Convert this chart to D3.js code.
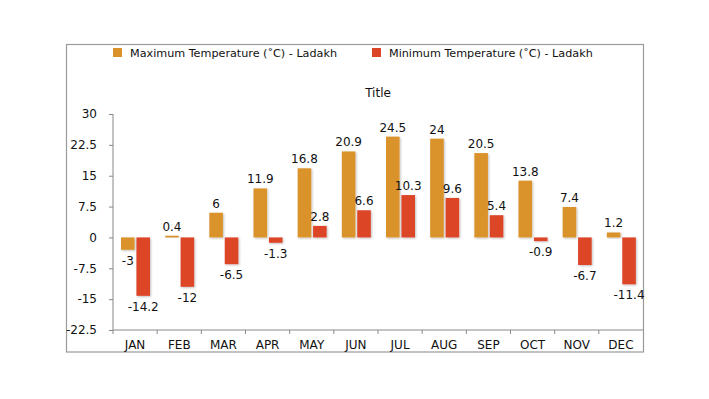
<!DOCTYPE html>
<html><head><meta charset="utf-8">
<script src="https://cdn.jsdelivr.net/npm/d3@7"></script>
<style>body{margin:0;background:#fff;} svg{display:block;font-family:"DejaVu Sans",Verdana,sans-serif;}</style>
</head><body>
<svg id="c" width="709" height="399"></svg>
<script>
const months = ["JAN","FEB","MAR","APR","MAY","JUN","JUL","AUG","SEP","OCT","NOV","DEC"];
const maxTemp = [-3,0.4,6,11.9,16.8,20.9,24.5,24,20.5,13.8,7.4,1.2];
const minTemp = [-14.2,-12,-6.5,-1.3,2.8,6.6,10.3,9.6,5.4,-0.9,-6.7,-11.4];
const yTicks = [30,22.5,15,7.5,0,-7.5,-15,-22.5];
const seriesNames = ["Maximum Temperature (˚C) - Ladakh","Minimum Temperature (˚C) - Ladakh"];
const colors = ["#DA922A","#DC4428"];
const chartTitle = "Title";

(function(){
const svg = d3.select("#c");
const defs = svg.append("defs");
const f = defs.append("filter").attr("id","sh").attr("x","-30%").attr("y","-30%").attr("width","160%").attr("height","160%");
f.append("feDropShadow").attr("dx",1).attr("dy",1).attr("stdDeviation",1).attr("flood-color","#000").attr("flood-opacity",0.25);

svg.append("rect").attr("x",66.5).attr("y",44.5).attr("width",577).attr("height",307.5)
  .attr("fill","#fff").attr("stroke","#9a9a9a").attr("stroke-width",1.2);

const pLeft=113, pRight=643, pTop=114, pBottom=330;
const y = d3.scaleLinear().domain([-22.5,30]).range([pBottom,pTop]);
const x0 = d3.scaleBand().domain(months).range([pLeft,pRight]).padding(0);
const x1 = d3.scaleBand().domain([0,1]).range([8,37]).paddingInner(0.12);

const ya = svg.append("g").attr("transform",`translate(${pLeft},0)`)
  .call(d3.axisLeft(y).tickValues(yTicks).tickSize(4).tickPadding(12).tickFormat(d=>String(d)));
ya.select(".domain").attr("stroke","#888").attr("d",`M0,${pTop}V${pBottom}`);
ya.selectAll(".tick line").attr("stroke","#888");
ya.selectAll("text").attr("font-size",12).attr("fill","#111").attr("font-family","DejaVu Sans");

const xa = svg.append("g").attr("transform",`translate(0,${pBottom})`);
xa.append("line").attr("x1",pLeft).attr("x2",pRight).attr("stroke","#888");
const bounds = months.map(m=>x0(m));
xa.selectAll("line.t").data(bounds).join("line").attr("class","t")
  .attr("x1",d=>d).attr("x2",d=>d).attr("y1",0).attr("y2",4).attr("stroke","#888");
xa.selectAll("text").data(months).join("text")
  .attr("x",d=>x0(d)+x0.bandwidth()/2).attr("y",19).attr("text-anchor","middle")
  .attr("font-size",12).attr("fill","#111").text(d=>d);

const series=[maxTemp,minTemp];
series.forEach((vals,si)=>{
  const g = svg.append("g");
  g.selectAll("rect").data(vals).join("rect")
    .attr("x",(d,i)=>x0(months[i])+x1(si))
    .attr("width",x1.bandwidth())
    .attr("y",d=>y(Math.max(0,d)))
    .attr("height",d=>Math.max(1,Math.abs(y(d)-y(0))))
    .attr("fill",colors[si]).attr("filter","url(#sh)");
  g.selectAll("text").data(vals).join("text")
    .attr("x",(d,i)=>x0(months[i])+x1(si)+x1.bandwidth()/2)
    .attr("y",d=>d>=0 ? y(d)-5 : y(d)+15)
    .attr("text-anchor","middle").attr("font-size",12).attr("fill","#111")
    .text(d=>String(d));
});

svg.append("text").attr("x",378).attr("y",97).attr("text-anchor","middle")
  .attr("font-size",12).attr("fill","#111").text(chartTitle);

const legX=[113,372];
seriesNames.forEach((n,i)=>{
  svg.append("rect").attr("x",legX[i]).attr("y",48).attr("width",9).attr("height",9).attr("fill",colors[i]);
  svg.append("text").attr("x",legX[i]+17).attr("y",57).attr("font-size",11.2).attr("fill","#111").text(n);
});
})();
</script>
</body></html>
